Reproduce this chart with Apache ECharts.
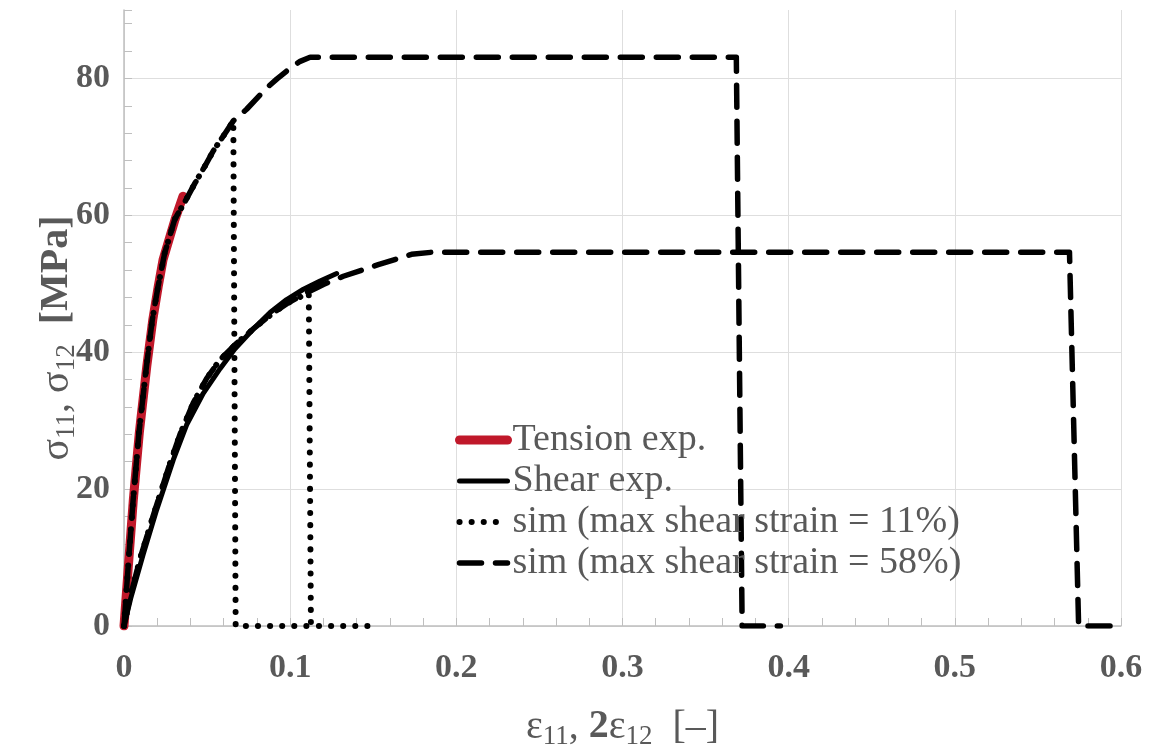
<!DOCTYPE html>
<html lang="en">
<head>
<meta charset="utf-8">
<title>Stress-strain</title>
<script src="https://cdn.jsdelivr.net/npm/echarts@6/dist/echarts.min.js"></script>
<style>
    html, body { margin: 0; padding: 0; background: #fff; }
    #main { width: 1152px; height: 747px; }
</style>
</head>
<body>
<div id="main"></div>
<script type="text/javascript">
// [strain, stress] pairs
var tensionExp = [[0, 0], [0.0026, 8.7], [0.0056, 18.4], [0.0092, 28.2], [0.0137, 37.9], [0.0173, 44.7],
    [0.0206, 49.6], [0.0235, 53.5], [0.0247, 54.5], [0.0307, 59.4], [0.0355, 62.8]];

var shearExp = [[0, 0], [0.004, 4], [0.0116, 10.5], [0.0197, 17], [0.0297, 24.3], [0.0377, 29.4],
    [0.0477, 34], [0.0578, 37.6], [0.0668, 40.5], [0.0778, 43.4], [0.0879, 45.8], [0.0979, 47.7],
    [0.108, 49.2], [0.118, 50.4], [0.128, 51.5]];

var sim11Tension = [[0, 0], [0.0025, 8.7], [0.0055, 18.4], [0.009, 28.2], [0.0135, 37.9], [0.017, 44.7],
    [0.0205, 49.6], [0.0245, 54.5], [0.0305, 59.4], [0.0367, 62], [0.0427, 64.7], [0.0487, 67.2],
    [0.0537, 69.4], [0.0598, 71.6], [0.0658, 73.8], [0.0672, 0], [0.11, 0]];

var sim11Shear = [[0, 0], [0.003, 3.5], [0.0096, 9.8], [0.0177, 16.2], [0.0277, 23.8], [0.0337, 28],
    [0.0417, 32.6], [0.0498, 36.2], [0.0578, 38.9], [0.0678, 41.3], [0.0778, 43.4], [0.0879, 45.4],
    [0.098, 47.1], [0.1112, 48.7], [0.1125, 0], [0.15, 0]];

var sim58Tension = [[0, 0], [0.0025, 8.7], [0.0055, 18.4], [0.009, 28.2], [0.0135, 37.9], [0.017, 44.7],
    [0.0205, 49.6], [0.0245, 54.5], [0.0305, 59.4], [0.0367, 62], [0.0427, 64.7], [0.0487, 67.2],
    [0.0537, 69.4], [0.0598, 71.6], [0.0658, 73.8], [0.0738, 75.5], [0.0858, 78.6], [0.0919, 79.9],
    [0.1, 81.5], [0.106, 82.5], [0.112, 83.1], [0.3685, 83.1], [0.372, 0], [0.395, 0]];

var sim58Shear = [[0, 0], [0.003, 3.5], [0.0096, 9.8], [0.0177, 16.2], [0.0277, 23.8], [0.0337, 28],
    [0.0417, 32.6], [0.0498, 36.2], [0.0578, 38.9], [0.0678, 41.3], [0.0778, 43.4], [0.0879, 45.4],
    [0.098, 47.1], [0.11, 48.7], [0.12, 49.9], [0.132, 51.1], [0.153, 52.8], [0.173, 54.3],
    [0.185, 54.6], [0.569, 54.6], [0.5745, 0], [0.6, 0]];

var legendNames = ['Tension exp.', 'Shear exp.', 'sim (max shear strain = 11%)', 'sim (max shear strain = 58%)'];
var xTicks = [0, 0.6, 0.1];   // min, max, step
var yTicks = [0, 90, 20];

var serif = 'Liberation Serif';
var grey = '#595959';

var nameRich = {
    n: { fontFamily: serif, fontSize: 40, color: grey, lineHeight: 46 },
    s: { fontFamily: serif, fontSize: 27, color: grey, lineHeight: 24, verticalAlign: 'bottom' },
    b: { fontFamily: serif, fontSize: 40, color: grey, lineHeight: 46, fontWeight: 'bold' }
};

var myChart = echarts.init(document.getElementById('main'));

function line(name, data, color, width, type) {
    return {
        name: name,
        type: 'line',
        data: data,
        symbol: 'none',
        lineStyle: { color: color, width: width, type: type, cap: 'round', join: 'round' },
        itemStyle: { color: color }
    };
}

var option = {
    animation: false,
    backgroundColor: '#fff',
    grid: { left: 124, right: 31, top: 10, bottom: 121, containLabel: false, outerBoundsMode: 'none' },
    legend: {
        data: legendNames,
        orient: 'vertical',
        left: 450,
        top: 416,
        itemWidth: 48,
        itemHeight: 14,
        itemGap: 3,
        itemStyle: { color: 'rgba(0,0,0,0)', borderWidth: 0, borderColor: 'rgba(0,0,0,0)' },
        lineStyle: { width: 'inherit' },
        textStyle: { fontFamily: serif, fontSize: 38, color: grey, lineHeight: 37 }
    },
    xAxis: {
        type: 'value',
        min: xTicks[0],
        max: xTicks[1],
        interval: xTicks[2],
        name: '{n|ε}{s|11}{n|, }{b|2}{n|ε}{s|12}{n|  [–]}',
        nameLocation: 'middle',
        nameGap: 78,
        nameTextStyle: { rich: nameRich },
        axisLine: { lineStyle: { color: '#bfbfbf', width: 1.5 } },
        axisTick: { show: true, inside: true, length: 8, lineStyle: { color: '#bfbfbf' } },
        minorTick: { show: true, splitNumber: 5, length: 8, lineStyle: { color: '#bfbfbf' } },
        splitLine: { show: true, lineStyle: { color: '#dedede', width: 1 } },
        axisLabel: { margin: 25, fontFamily: serif, fontSize: 34, fontWeight: 'bold', color: grey }
    },
    yAxis: {
        type: 'value',
        min: yTicks[0],
        max: yTicks[1],
        interval: yTicks[2],
        name: '{n|σ}{s|11}{n|, σ}{s|12}{n|  }{b|[MPa]}{n|    }',
        nameLocation: 'middle',
        nameGap: 44,
        nameMoveOverlap: false,
        nameRotate: 90,
        nameTextStyle: { rich: nameRich },
        axisLine: { show: true, lineStyle: { color: '#bfbfbf', width: 1.5 } },
        axisTick: { show: true, inside: true, length: 8, lineStyle: { color: '#bfbfbf' } },
        minorTick: { show: true, splitNumber: 5, length: 8, lineStyle: { color: '#bfbfbf' } },
        splitLine: { show: true, showMaxLine: false, lineStyle: { color: '#dedede', width: 1 } },
        axisLabel: {
            margin: 14, fontFamily: serif, fontSize: 34, fontWeight: 'bold', color: grey,
            formatter: function (v) { return v % 20 === 0 ? String(v) : ''; }
        }
    },
    series: [
        line(legendNames[0], tensionExp, '#c0182a', 9, 'solid'),
        line(legendNames[1], shearExp, '#000', 5, 'solid'),
        line(legendNames[2], sim11Tension, '#000', 6, [0.1, 12]),
        line(legendNames[2], sim11Shear, '#000', 6, [0.1, 12]),
        line(legendNames[3], sim58Tension, '#000', 5.5, [22, 14]),
        line(legendNames[3], sim58Shear, '#000', 5.5, [22, 14])
    ]
};
myChart.setOption(option);
</script>
</body>
</html>
